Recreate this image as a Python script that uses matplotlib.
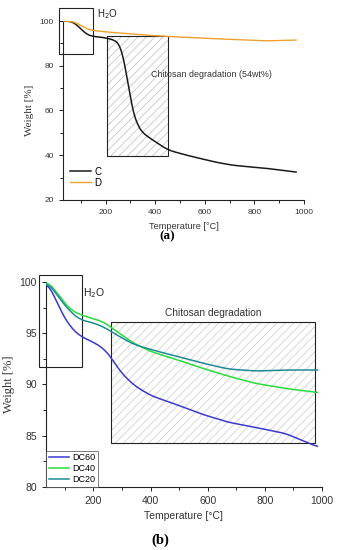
import matplotlib
matplotlib.use("Agg")
import matplotlib.pyplot as plt
from matplotlib.patches import Rectangle
import numpy as np

# ---- panel (a) data ----
temp_C = [30, 64, 80, 96, 116, 136, 170, 204, 244, 258, 268, 278, 288, 296, 304, 320, 336, 360, 388, 420, 456, 520, 576, 640, 708, 780, 844, 910, 968]
weight_C = [100, 99.8, 98.8, 96.9, 94.6, 93.3, 92.9, 92.4, 91.1, 89.6, 87.0, 81.0, 73.8, 67.0, 61.8, 55.5, 51.6, 49.0, 47.0, 44.5, 42.2, 40.2, 38.7, 37.0, 35.6, 34.8, 34.2, 33.3, 32.4]
temp_D = [30, 64, 80, 96, 116, 136, 170, 204, 260, 348, 450, 576, 700, 844, 968]
weight_D = [100, 99.9, 99.3, 98.2, 96.9, 96.0, 95.5, 95.1, 94.6, 93.8, 93.1, 92.4, 91.8, 91.1, 91.5]

# ---- panel (b) data ----
temp_b = [36, 60, 83, 119, 154, 201, 236, 260, 295, 342, 401, 483, 578, 672, 766, 872, 984]
weight_DC60 = [99.9, 98.9, 97.3, 95.6, 94.7, 94.1, 93.5, 92.7, 91.2, 89.9, 88.9, 88.1, 87.1, 86.3, 85.8, 85.2, 83.9]
weight_DC40 = [100, 99.5, 98.5, 97.3, 96.8, 96.4, 96.1, 95.6, 94.9, 94.0, 93.2, 92.5, 91.6, 90.8, 90.1, 89.6, 89.2]
weight_DC20 = [99.9, 99.3, 98.3, 97.1, 96.3, 96.0, 95.6, 95.2, 94.6, 93.9, 93.4, 92.8, 92.1, 91.5, 91.3, 91.4, 91.4]

labels_a = ["C", "D"]
labels_b = ["DC60", "DC40", "DC20"]

plt.rcParams['font.family'] = ['Liberation Sans', 'DejaVu Sans']
plt.rcParams['hatch.linewidth'] = 0.5

fig = plt.figure(figsize=(3.38, 5.5), dpi=100)
tc = '#333333'

def style(ax, fs):
    for s in ['top', 'right']:
        ax.spines[s].set_visible(False)
    for s in ['left', 'bottom']:
        ax.spines[s].set_color('#222222')
        ax.spines[s].set_linewidth(0.8)
    ax.tick_params(which='both', direction='out', colors='#222222', labelcolor=tc, labelsize=fs, width=0.7)
    ax.tick_params(which='major', length=3)
    ax.tick_params(which='minor', length=2)

def smooth(x, y):
    xs = np.linspace(x[0], x[-1], 400)
    ys = np.interp(xs, x, y)
    k = 9
    pad = np.pad(ys, k, mode='edge')
    ys = np.convolve(pad, np.ones(2 * k + 1) / (2 * k + 1), mode='same')[k:-k]
    return xs, ys

# ---- (a) ----
ax1 = fig.add_axes([63 / 338, 1 - 200 / 550, (304 - 63) / 338, (200 - 21) / 550])
style(ax1, 6)
ax1.set_xlim(28, 1000)
ax1.set_ylim(20, 100)
ax1.set_xticks([200, 400, 600, 800, 1000])
ax1.set_xticks([100, 300, 500, 700, 900], minor=True)
ax1.set_yticks([20, 40, 60, 80, 100])
ax1.set_yticks([30, 50, 70, 90], minor=True)

ax1.add_patch(Rectangle((204, 39.6), 248, 53.7, facecolor='white', edgecolor='#bbbbbb', hatch='////', lw=0, zorder=1))
ax1.add_patch(Rectangle((204, 39.6), 248, 53.7, fill=False, edgecolor='#222222', lw=0.8, zorder=2))
ax1.add_patch(Rectangle((12, 85.3), 136, 20.7, fill=False, edgecolor='#222222', lw=0.8, zorder=2, clip_on=False))

xs, ys = smooth(temp_C, weight_C)
ax1.plot(xs, ys, color='#1a1a1a', lw=1.1, label=labels_a[0], zorder=3)
xs, ys = smooth(temp_D, weight_D)
ax1.plot(xs, ys, color='#f0a030', lw=1.0, label=labels_a[1], zorder=3)

ax1.text(164, 101.8, 'H$_2$O', fontsize=7, color='#222222')
ax1.text(384, 76, 'Chitosan degradation (54wt%)', fontsize=6.4, color=tc, va='center')
ax1.set_ylabel('Weight [%]', family='Liberation Serif', fontsize=8, color=tc, labelpad=4)
ax1.set_xlabel('Temperature [°C]', fontsize=6.6, color=tc, labelpad=4)
ax1.legend(loc='lower left', frameon=False, fontsize=7, handlelength=2.2, handletextpad=0.3,
           labelspacing=0.1, bbox_to_anchor=(0.0, 0.03), borderaxespad=0.3)
fig.text(167 / 338, 1 - 236 / 550, '(a)', family='Liberation Serif', fontsize=9.5, fontweight='bold',
         ha='center', va='center')

# ---- (b) ----
ax2 = fig.add_axes([46 / 338, 1 - 486.7 / 550, (322 - 46) / 338, (486.7 - 282) / 550])
style(ax2, 7.5)
ax2.set_xlim(34, 1000)
ax2.set_ylim(80, 100)
ax2.set_xticks([200, 400, 600, 800, 1000])
ax2.set_xticks([100, 300, 500, 700, 900], minor=True)
ax2.set_yticks([80, 85, 90, 95, 100])
ax2.set_yticks([82.5, 87.5, 92.5, 97.5], minor=True)

ax2.add_patch(Rectangle((260, 84.3), 717, 11.75, facecolor='white', edgecolor='#c8c8c8', hatch='////', lw=0, zorder=1))
ax2.add_patch(Rectangle((260, 84.3), 717, 11.75, fill=False, edgecolor='#222222', lw=0.8, zorder=2))
ax2.add_patch(Rectangle((9, 91.7), 152, 9.0, fill=False, edgecolor='#222222', lw=0.8, zorder=2, clip_on=False))

for w, c, l in zip([weight_DC60, weight_DC40, weight_DC20], ['#3a3ad0', '#28dc3c', '#1e8a96'], labels_b):
    xs, ys = smooth(temp_b, w)
    ax2.plot(xs, ys, color=c, lw=1.1, label=l, zorder=3)

ax2.text(162, 98.9, 'H$_2$O', fontsize=7.5, color='#222222', va='center')
ax2.text(620, 97.0, 'Chitosan degradation', fontsize=7.3, color=tc, ha='center', va='center')
ax2.set_ylabel('Weight [%]', family='Liberation Serif', fontsize=9, color=tc, labelpad=3)
ax2.set_xlabel('Temperature [°C]', fontsize=7.5, color=tc, labelpad=4)
leg = ax2.legend(loc='lower left', frameon=True, fontsize=6.5, handlelength=2.3, handletextpad=0.3,
                 labelspacing=0.2, borderaxespad=0.0, fancybox=False, borderpad=0.3)
leg.get_frame().set_edgecolor('#444444')
leg.get_frame().set_linewidth(0.6)
fig.text(160 / 338, 1 - 540 / 550, '(b)', family='Liberation Serif', fontsize=10.5, fontweight='bold',
         ha='center', va='center')

fig.savefig('out.png', dpi=100)
